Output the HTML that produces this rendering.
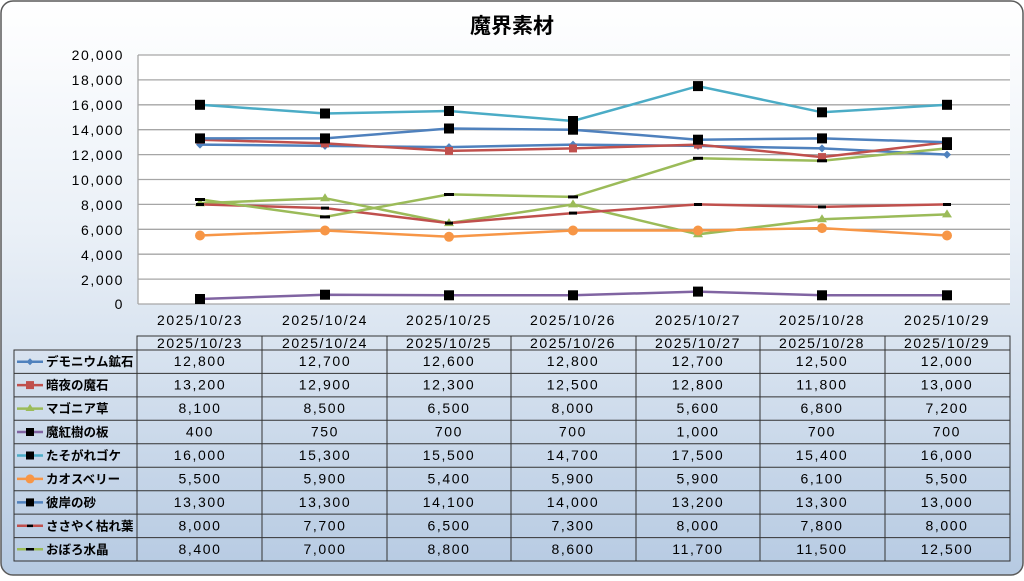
<!DOCTYPE html>
<html><head><meta charset="utf-8"><style>
html,body{margin:0;padding:0;background:#fff;}
svg text{font-family:"Liberation Sans","Noto Sans CJK JP",sans-serif;}
.n{font-size:14px;letter-spacing:1.6px;}
</style></head><body>
<svg width="1024" height="576" xmlns="http://www.w3.org/2000/svg">
<defs>
<linearGradient id="bg" x1="0" y1="0" x2="0" y2="1">
<stop offset="0" stop-color="#ffffff"/><stop offset="0.4" stop-color="#eaf0f7"/><stop offset="1" stop-color="#b6cae2"/>
</linearGradient>
</defs>
<rect x="1" y="1" width="1022" height="574" rx="12" fill="url(#bg)" stroke="#5a5a5a" stroke-width="1.5"/>
<text x="512" y="33" font-size="21" font-weight="bold" text-anchor="middle" fill="#000">魔界素材</text>
<rect x="138" y="55" width="872" height="249" fill="#fff"/>
<g stroke="#a6a6a6" stroke-width="1.3">
<line x1="138" y1="55" x2="1010" y2="55"/>
<line x1="138" y1="79.9" x2="1010" y2="79.9"/><line x1="138" y1="104.8" x2="1010" y2="104.8"/>
<line x1="138" y1="129.7" x2="1010" y2="129.7"/><line x1="138" y1="154.6" x2="1010" y2="154.6"/>
<line x1="138" y1="179.5" x2="1010" y2="179.5"/><line x1="138" y1="204.4" x2="1010" y2="204.4"/>
<line x1="138" y1="229.3" x2="1010" y2="229.3"/><line x1="138" y1="254.2" x2="1010" y2="254.2"/>
<line x1="138" y1="279.1" x2="1010" y2="279.1"/><line x1="138" y1="304" x2="1010" y2="304"/>
<line x1="138" y1="55" x2="138" y2="304"/>
</g>
<g class="n" text-anchor="end" fill="#000">
<text x="124" y="60">20,000</text><text x="124" y="85">18,000</text><text x="124" y="110">16,000</text>
<text x="124" y="135">14,000</text><text x="124" y="160">12,000</text><text x="124" y="185">10,000</text>
<text x="124" y="210">8,000</text><text x="124" y="235">6,000</text><text x="124" y="260">4,000</text>
<text x="124" y="285">2,000</text><text x="124" y="309">0</text>
</g>
<g class="n" text-anchor="middle" fill="#000">
<text x="200" y="325">2025/10/23</text><text x="325" y="325">2025/10/24</text><text x="449" y="325">2025/10/25</text>
<text x="573" y="325">2025/10/26</text><text x="698" y="325">2025/10/27</text><text x="822" y="325">2025/10/28</text><text x="947" y="325">2025/10/29</text>
</g>
<g fill="none" stroke-width="2.5">
<polyline stroke="#4F81BD" points="200,144.6 325,145.9 449,147.1 573,144.6 698,145.9 822,148.4 947,154.6"/>
<polyline stroke="#C0504D" points="200,139.7 325,143.4 449,150.9 573,148.4 698,144.6 822,157.1 947,142.2"/>
<polyline stroke="#9BBB59" points="200,203.2 325,198.2 449,223.1 573,204.4 698,234.3 822,219.3 947,214.4"/>
<polyline stroke="#8064A2" points="200,299 325,294.7 449,295.3 573,295.3 698,291.6 822,295.3 947,295.3"/>
<polyline stroke="#4BACC6" points="200,104.8 325,113.5 449,111 573,121 698,86.1 822,112.3 947,104.8"/>
<polyline stroke="#F79646" points="200,235.5 325,230.5 449,236.8 573,230.5 698,230.5 822,228.1 947,235.5"/>
<polyline stroke="#4F81BD" points="200,138.4 325,138.4 449,128.5 573,129.7 698,139.7 822,138.4 947,142.2"/>
<polyline stroke="#C0504D" points="200,204.4 325,208.1 449,223.1 573,213.1 698,204.4 822,206.9 947,204.4"/>
<polyline stroke="#9BBB59" points="200,199.4 325,216.9 449,194.4 573,196.9 698,158.3 822,160.8 947,148.4"/>
</g>
<g fill="#4F81BD">
<path d="M200,140.6l4,4l-4,4l-4,-4z M325,141.9l4,4l-4,4l-4,-4z M449,143.1l4,4l-4,4l-4,-4z M573,140.6l4,4l-4,4l-4,-4z M698,141.9l4,4l-4,4l-4,-4z M822,144.4l4,4l-4,4l-4,-4z M947,150.6l4,4l-4,4l-4,-4z"/>
</g>
<g fill="#C0504D">
<rect x="196" y="135.7" width="8" height="8"/><rect x="321" y="139.4" width="8" height="8"/><rect x="445" y="146.9" width="8" height="8"/><rect x="569" y="144.4" width="8" height="8"/><rect x="694" y="140.6" width="8" height="8"/><rect x="818" y="153.1" width="8" height="8"/><rect x="943" y="138.2" width="8" height="8"/>
</g>
<g fill="#9BBB59">
<path d="M200,198.2l5,8h-10z M325,193.2l5,8h-10z M449,218.1l5,8h-10z M573,199.4l5,8h-10z M698,229.3l5,8h-10z M822,214.3l5,8h-10z M947,209.4l5,8h-10z"/>
</g>
<g fill="#F79646">
<circle cx="200" cy="235.5" r="5"/><circle cx="325" cy="230.5" r="5"/><circle cx="449" cy="236.8" r="5"/><circle cx="573" cy="230.5" r="5"/><circle cx="698" cy="230.5" r="5"/><circle cx="822" cy="228.1" r="5"/><circle cx="947" cy="235.5" r="5"/>
</g>
<g fill="#000">
<rect x="195" y="294" width="10" height="10"/><rect x="320" y="289.7" width="10" height="10"/><rect x="444" y="290.3" width="10" height="10"/><rect x="568" y="290.3" width="10" height="10"/><rect x="693" y="286.6" width="10" height="10"/><rect x="817" y="290.3" width="10" height="10"/><rect x="942" y="290.3" width="10" height="10"/>
<rect x="195" y="99.8" width="10" height="10"/><rect x="320" y="108.5" width="10" height="10"/><rect x="444" y="106" width="10" height="10"/><rect x="568" y="116" width="10" height="10"/><rect x="693" y="81.1" width="10" height="10"/><rect x="817" y="107.3" width="10" height="10"/><rect x="942" y="99.8" width="10" height="10"/>
<rect x="195" y="133.4" width="10" height="10"/><rect x="320" y="133.4" width="10" height="10"/><rect x="444" y="123.5" width="10" height="10"/><rect x="568" y="124.7" width="10" height="10"/><rect x="693" y="134.7" width="10" height="10"/><rect x="817" y="133.4" width="10" height="10"/><rect x="942" y="137.2" width="10" height="10"/>
<rect x="196" y="203" width="8" height="3"/><rect x="321" y="206.6" width="8" height="3"/><rect x="445" y="221.6" width="8" height="3"/><rect x="569" y="211.6" width="8" height="3"/><rect x="694" y="203" width="8" height="3"/><rect x="818" y="205.4" width="8" height="3"/><rect x="943" y="203" width="8" height="3"/>
<rect x="195" y="198" width="10" height="3"/><rect x="320" y="215.4" width="10" height="3"/><rect x="444" y="193" width="10" height="3"/><rect x="568" y="195.4" width="10" height="3"/><rect x="693" y="156.8" width="10" height="3"/><rect x="817" y="159.3" width="10" height="3"/><rect x="942" y="147" width="10" height="3"/>
</g>
<!-- table -->
<g stroke="#333" stroke-width="1" fill="none">
<rect x="137" y="336" width="873" height="14"/>
<rect x="14" y="350" width="996" height="211"/>
<line x1="137" y1="336" x2="137" y2="561"/>
<line x1="262" y1="336" x2="262" y2="561"/><line x1="387" y1="336" x2="387" y2="561"/><line x1="511" y1="336" x2="511" y2="561"/><line x1="636" y1="336" x2="636" y2="561"/><line x1="760" y1="336" x2="760" y2="561"/><line x1="885" y1="336" x2="885" y2="561"/>
<line x1="14" y1="373.4" x2="1010" y2="373.4"/><line x1="14" y1="396.9" x2="1010" y2="396.9"/><line x1="14" y1="420.3" x2="1010" y2="420.3"/><line x1="14" y1="443.8" x2="1010" y2="443.8"/><line x1="14" y1="467.2" x2="1010" y2="467.2"/><line x1="14" y1="490.7" x2="1010" y2="490.7"/><line x1="14" y1="514.1" x2="1010" y2="514.1"/><line x1="14" y1="537.6" x2="1010" y2="537.6"/>
</g>
<g class="n" text-anchor="middle" fill="#000">
<text x="200" y="348">2025/10/23</text><text x="325" y="348">2025/10/24</text><text x="449" y="348">2025/10/25</text><text x="573" y="348">2025/10/26</text><text x="698" y="348">2025/10/27</text><text x="822" y="348">2025/10/28</text><text x="947" y="348">2025/10/29</text>
</g>
<g stroke-width="2.5">
<line x1="17" y1="361.7" x2="43" y2="361.7" stroke="#4F81BD"/><line x1="17" y1="385.1" x2="43" y2="385.1" stroke="#C0504D"/><line x1="17" y1="408.6" x2="43" y2="408.6" stroke="#9BBB59"/><line x1="17" y1="432" x2="43" y2="432" stroke="#8064A2"/><line x1="17" y1="455.5" x2="43" y2="455.5" stroke="#4BACC6"/><line x1="17" y1="478.9" x2="43" y2="478.9" stroke="#F79646"/><line x1="17" y1="502.4" x2="43" y2="502.4" stroke="#4F81BD"/><line x1="17" y1="525.8" x2="43" y2="525.8" stroke="#C0504D"/><line x1="17" y1="549.3" x2="43" y2="549.3" stroke="#9BBB59"/>
</g>
<path d="M30,358.2l3.5,3.5l-3.5,3.5l-3.5,-3.5z" fill="#4F81BD"/>
<rect x="26" y="381.1" width="8" height="8" fill="#C0504D"/>
<path d="M30,404l4.5,7h-9z" fill="#9BBB59"/>
<rect x="26" y="428" width="8" height="8" fill="#000"/><rect x="26" y="451.5" width="8" height="8" fill="#000"/>
<circle cx="30" cy="478.9" r="4.5" fill="#F79646"/>
<rect x="26" y="498.4" width="8" height="8" fill="#000"/>
<rect x="27" y="524.6" width="6" height="2.5" fill="#000"/><rect x="26" y="548" width="8" height="2.5" fill="#000"/>
<g font-size="12.5" font-weight="bold" fill="#000">
<text x="46" y="366">デモニウム鉱石</text><text x="46" y="389.5">暗夜の魔石</text><text x="46" y="413">マゴニア草</text><text x="46" y="436.5">魔紅樹の板</text><text x="46" y="460">たそがれゴケ</text><text x="46" y="483.5">カオスベリー</text><text x="46" y="507">彼岸の砂</text><text x="46" y="530.5">ささやく枯れ葉</text><text x="46" y="554">おぼろ水晶</text>
</g>
<g class="n" text-anchor="middle" fill="#000">
<text x="200" y="366">12,800</text><text x="325" y="366">12,700</text><text x="449" y="366">12,600</text><text x="573" y="366">12,800</text><text x="698" y="366">12,700</text><text x="822" y="366">12,500</text><text x="947" y="366">12,000</text>
<text x="200" y="389.5">13,200</text><text x="325" y="389.5">12,900</text><text x="449" y="389.5">12,300</text><text x="573" y="389.5">12,500</text><text x="698" y="389.5">12,800</text><text x="822" y="389.5">11,800</text><text x="947" y="389.5">13,000</text>
<text x="200" y="413">8,100</text><text x="325" y="413">8,500</text><text x="449" y="413">6,500</text><text x="573" y="413">8,000</text><text x="698" y="413">5,600</text><text x="822" y="413">6,800</text><text x="947" y="413">7,200</text>
<text x="200" y="436.5">400</text><text x="325" y="436.5">750</text><text x="449" y="436.5">700</text><text x="573" y="436.5">700</text><text x="698" y="436.5">1,000</text><text x="822" y="436.5">700</text><text x="947" y="436.5">700</text>
<text x="200" y="460">16,000</text><text x="325" y="460">15,300</text><text x="449" y="460">15,500</text><text x="573" y="460">14,700</text><text x="698" y="460">17,500</text><text x="822" y="460">15,400</text><text x="947" y="460">16,000</text>
<text x="200" y="483.5">5,500</text><text x="325" y="483.5">5,900</text><text x="449" y="483.5">5,400</text><text x="573" y="483.5">5,900</text><text x="698" y="483.5">5,900</text><text x="822" y="483.5">6,100</text><text x="947" y="483.5">5,500</text>
<text x="200" y="507">13,300</text><text x="325" y="507">13,300</text><text x="449" y="507">14,100</text><text x="573" y="507">14,000</text><text x="698" y="507">13,200</text><text x="822" y="507">13,300</text><text x="947" y="507">13,000</text>
<text x="200" y="530.5">8,000</text><text x="325" y="530.5">7,700</text><text x="449" y="530.5">6,500</text><text x="573" y="530.5">7,300</text><text x="698" y="530.5">8,000</text><text x="822" y="530.5">7,800</text><text x="947" y="530.5">8,000</text>
<text x="200" y="554">8,400</text><text x="325" y="554">7,000</text><text x="449" y="554">8,800</text><text x="573" y="554">8,600</text><text x="698" y="554">11,700</text><text x="822" y="554">11,500</text><text x="947" y="554">12,500</text>
</g>
</svg>
</body></html>
